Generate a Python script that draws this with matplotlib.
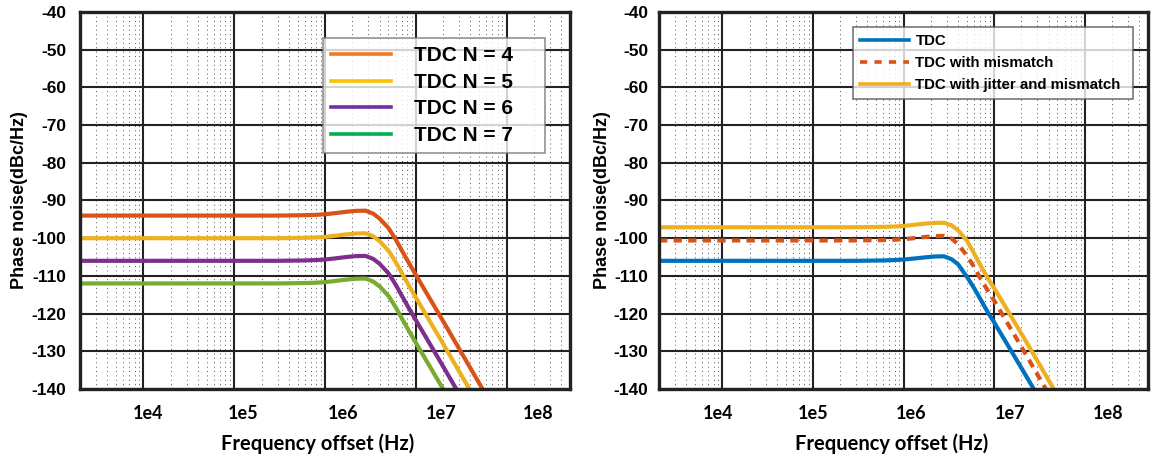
import numpy as np
import matplotlib
matplotlib.use("Agg")
import matplotlib.pyplot as plt
from matplotlib.lines import Line2D
from matplotlib.ticker import LogLocator, FixedLocator, NullFormatter
from matplotlib.transforms import blended_transform_factory, ScaledTranslation

plt.rcParams['font.family'] = ['Liberation Sans', 'DejaVu Sans']
plt.rcParams['font.weight'] = 'bold'
plt.rcParams['axes.unicode_minus'] = False

# data
freq = [2e3, 1e4, 1e5, 3e5, 6e5, 8e5, 1e6, 1.3e6, 1.7e6, 2.2e6, 2.8e6, 3.4e6, 4e6,
        5e6, 6e6, 7e6, 8.5e6, 1e7, 2e7, 3e7, 5.5e7]

n4 = [-94.0, -94.0, -94.0, -94.0, -93.9, -93.8, -93.65, -93.35, -93.0, -92.75, -92.7,
      -93.5, -94.8, -97.3, -100.3, -103.2, -106.8, -109.7, -122.0, -129.3, -140.2]
n5 = [-100.0, -100.0, -100.0, -100.0, -99.9, -99.8, -99.65, -99.35, -99.0, -98.75, -98.7,
      -99.5, -100.8, -103.3, -106.3, -109.2, -112.8, -115.7, -128.0, -135.3, -146.2]
n6 = [-106.0, -106.0, -106.0, -106.0, -105.9, -105.8, -105.65, -105.35, -105.0, -104.75, -104.7,
      -105.5, -106.8, -109.3, -112.3, -115.2, -118.8, -121.7, -134.0, -141.3, -152.2]
n7 = [-112.0, -112.0, -112.0, -112.0, -111.9, -111.8, -111.65, -111.35, -111.0, -110.75, -110.7,
      -111.5, -112.8, -115.3, -118.3, -121.2, -124.8, -127.7, -140.0, -147.3, -158.2]

tdc = [-106.0, -106.0, -106.0, -106.0, -105.9, -105.8, -105.65, -105.4, -105.1, -104.85, -104.8,
       -105.6, -106.9, -110.2, -113.2, -116.0, -119.6, -122.3, -134.4, -141.6, -152.3]
tdc_mis = [-100.6, -100.6, -100.6, -100.6, -100.5, -100.4, -100.25, -100.0, -99.7, -99.45, -99.4,
           -100.1, -101.6, -104.6, -107.6, -110.5, -113.9, -116.5, -128.8, -136.1, -147.0]
tdc_jit = [-97.1, -97.1, -97.1, -97.1, -97.0, -96.9, -96.75, -96.45, -96.15, -95.95, -95.9,
           -96.6, -97.9, -100.6, -104.0, -107.0, -110.6, -113.2, -125.3, -132.5, -143.4]

left_labels = ['TDC N = 4', 'TDC N = 5', 'TDC N = 6', 'TDC N = 7']
right_labels = ['TDC', 'TDC with mismatch', 'TDC with jitter and mismatch']

xtick_vals = [1e4, 1e5, 1e6, 1e7, 1e8]
xtick_text = ['1e4', '1e5', '1e6', '1e7', '1e8']
yticks = list(range(-140, -39, 10))

c_blue, c_orange, c_yellow, c_purple, c_green = '#0072BD', '#D95319', '#EDB120', '#7E2F8E', '#77AC30'

fig = plt.figure(figsize=(11.55, 4.58), dpi=100)
ax1 = fig.add_axes([80/1155, 69/458, 490/1155, 377/458])
ax2 = fig.add_axes([659/1155, 69/458, 489/1155, 377/458])


def style(ax, ypad, label_shift):
    ax.set_xscale('log')
    ax.set_xlim(2e3, 5e8)
    ax.set_ylim(-140, -40)
    ax.set_axisbelow(True)
    ax.xaxis.set_major_locator(FixedLocator(xtick_vals))
    ax.xaxis.set_minor_locator(LogLocator(base=10, subs=np.arange(2, 10), numticks=20))
    ax.xaxis.set_minor_formatter(NullFormatter())
    ax.set_yticks(yticks)
    ax.tick_params(axis='x', which='both', length=0, labelbottom=False)
    ax.tick_params(axis='y', length=0, pad=ypad, labelsize=12.5)
    for t in ax.get_yticklabels():
        t.set_fontweight('bold')
    ax.grid(which='major', color='#222222', lw=1.5)
    ax.grid(which='minor', axis='x', color='#555555', lw=0.7, ls=(0, (1, 3.5)))
    for s in ax.spines.values():
        s.set_linewidth(2.4)
        s.set_color('#222222')
    # x tick labels, drawn a little off the gridlines as in the original
    tr = blended_transform_factory(ax.transData, ax.transAxes)
    for v, txt, dx in zip(xtick_vals, xtick_text, label_shift):
        ax.text(v, -0.064, txt, transform=tr + ScaledTranslation(dx / 100, 0, fig.dpi_scale_trans),
                ha='center', va='center', fontsize=13, family=['Lato', 'DejaVu Sans'],
                fontweight='bold', clip_on=False)
    ax.set_xlabel('Frequency offset (Hz)', fontsize=14.5, family=['Lato', 'DejaVu Sans'],
                  fontweight='bold')
    ax.set_ylabel('Phase noise(dBc/Hz)', fontsize=13, fontweight='bold')


style(ax1, 10, [5, 9, 18, 25, 32])
style(ax2, 7.5, [-4, 0, 8, 16, 23])
ax1.xaxis.set_label_coords(0.484, -0.118)
ax2.xaxis.set_label_coords(0.476, -0.118)
ax1.yaxis.set_label_coords(-0.107, 0.5)
ax2.yaxis.set_label_coords(-0.099, 0.5)

lw = 3
for vals, c in zip([n4, n5, n6, n7], [c_orange, c_yellow, c_purple, c_green]):
    ax1.plot(freq, vals, color=c, lw=lw, solid_capstyle='butt')

ax2.plot(freq, tdc, color=c_blue, lw=lw)
ax2.plot(freq, tdc_mis, color=c_orange, lw=lw, ls=(0, (2.0, 1.5)))
ax2.plot(freq, tdc_jit, color=c_yellow, lw=lw)

# legend of left panel uses office colours, unlike the curves
leg_cols = ['#F47920', '#FFC000', '#7030A0', '#00B050']
h1 = [Line2D([], [], color=c, lw=2.6) for c in leg_cols]
l1 = ax1.legend(h1, left_labels, loc='upper left', bbox_to_anchor=(0.495, 0.831, 0.454, 0.1),
                mode='expand', borderaxespad=0, fancybox=False,
                handlelength=2.9, handletextpad=1.1, labelspacing=0.36, borderpad=0.4,
                prop={'weight': 'bold', 'size': 15})
l1.get_frame().set_edgecolor('#777777')
l1.get_frame().set_linewidth(1.2)

h2 = [Line2D([], [], color=c_blue, lw=2.6),
      Line2D([], [], color=c_orange, lw=2.6, ls=(0, (2.0, 2.0))),
      Line2D([], [], color=c_yellow, lw=2.6)]
l2 = ax2.legend(h2, right_labels, loc='upper left', bbox_to_anchor=(0.397, 0.860, 0.573, 0.1),
                mode='expand', borderaxespad=0, fancybox=False,
                handlelength=3.3, handletextpad=0.4, labelspacing=0.55, borderpad=0.45,
                prop={'weight': 'bold', 'size': 10.8})
l2.get_frame().set_edgecolor('#555555')
l2.get_frame().set_linewidth(1.2)

fig.savefig('out.png', dpi=100)
